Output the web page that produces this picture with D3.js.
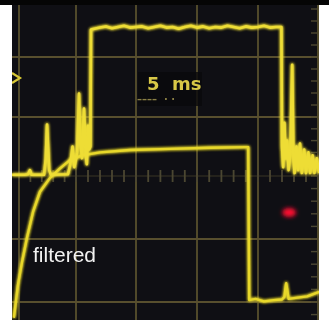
<!DOCTYPE html>
<html>
<head>
<meta charset="utf-8">
<script src="https://cdn.jsdelivr.net/npm/d3@7"></script>
<style>
  html, body { margin: 0; padding: 0; background: #fff; }
  svg { display: block; }
</style>
</head>
<body>
<div id="chart"></div>
<script>
// Time in ms (5 ms/div), values in divisions
const gridTimes = [0, 5, 10, 15, 20, 25];
const gridLevels = [-2, -1, 0, 1, 2];

// Raw (unfiltered) trace
const rawTime = [-0.6, 0.5, 0.8, 0.96, 1.1, 2.2, 2.35, 2.46, 2.55, 2.65, 2.8, 4.3, 4.5, 4.7, 4.85, 5.1, 5.25, 5.35, 5.5, 5.67, 5.8, 5.9, 6.0, 6.1, 6.2, 6.25,
  7, 7.5, 8, 8.5, 9, 9.5, 10, 10.5, 11, 11.5, 12, 12.5, 13, 13.5, 14, 14.5, 15, 15.5, 16, 16.5, 17, 17.5, 18, 18.5, 19, 19.5, 20, 20.5, 21, 21.5, 21.95,
  22.0, 22.1, 22.2, 22.3, 22.42, 22.55, 22.7, 22.85, 22.95, 23.05, 23.2, 23.35, 23.5, 23.65, 23.85, 24.0, 24.2, 24.35, 24.55, 24.7, 24.9, 25.1];
const rawValue = [0.02, 0.02, 0.03, 0.1, 0.02, 0.02, 0.3, 0.87, 0.5, 0.1, 0.02, 0.03, 0.2, 0.5, 0.15, 0.4, 1.39, 0.6, 0.3, 1.14, 0.4, 0.2, 0.85, 0.45, 0.5, 2.46,
  2.49, 2.51, 2.48, 2.5, 2.52, 2.49, 2.5, 2.51, 2.48, 2.5, 2.52, 2.49, 2.5, 2.47, 2.5, 2.52, 2.49, 2.51, 2.48, 2.5, 2.49, 2.52, 2.5, 2.48, 2.51, 2.49, 2.5, 2.52, 2.49, 2.5, 2.5,
  0.5, 0.15, 0.9, 0.3, 0.6, 0.1, 0.4, 1.87, 0.3, 0.05, 0.5, 0.1, 0.55, 0.05, 0.45, 0.05, 0.4, 0.05, 0.35, 0.05, 0.3, 0.05];

// Filtered trace
const filtTime = [-0.45, -0.09, 0.26, 0.7, 1.23, 1.84, 2.72, 3.6, 4.47, 5.5, 7.0, 9.5, 12.8, 16.1, 19.0, 19.2, 19.28, 19.8, 20.5, 21.3, 22.0, 22.2, 22.35, 22.55, 23.3, 24.1, 25.1];
const filtValue = [-2.25, -1.73, -1.37, -0.98, -0.57, -0.25, -0.03, 0.13, 0.27, 0.35, 0.40, 0.44, 0.46, 0.48, 0.49, 0.49, -1.97, -1.95, -1.99, -1.97, -1.96, -1.92, -1.70, -1.95, -1.93, -1.91, -1.84];

const W = 329, H = 320;
const plot = { left: 12, right: 319, top: 5, bottom: 320 };

const svg = d3.select('#chart').append('svg')
  .attr('width', W).attr('height', H);

const defs = svg.append('defs');
defs.append('clipPath').attr('id', 'clip')
  .append('rect')
  .attr('x', plot.left).attr('y', plot.top)
  .attr('width', plot.right - plot.left).attr('height', plot.bottom - plot.top);

// userSpaceOnUse so straight lines (zero-size bbox) still get filtered
function makeFilter(id, sd) {
  const f = defs.append('filter').attr('id', id)
    .attr('filterUnits', 'userSpaceOnUse')
    .attr('x', 0).attr('y', 0).attr('width', W).attr('height', H);
  f.append('feGaussianBlur').attr('stdDeviation', sd);
  return f;
}
makeFilter('soft', 0.5);
makeFilter('redBlur', 2);

const glow = defs.append('filter').attr('id', 'glow')
  .attr('filterUnits', 'userSpaceOnUse')
  .attr('x', 0).attr('y', 0).attr('width', W).attr('height', H);
glow.append('feGaussianBlur').attr('stdDeviation', 1.8).attr('result', 'b');
const merge = glow.append('feMerge');
merge.append('feMergeNode').attr('in', 'b');
merge.append('feMergeNode').attr('in', 'b');
merge.append('feMergeNode').attr('in', 'SourceGraphic');

// photo was a bit skewed, so grid spacing isn't perfectly even
const x = d3.scaleLinear().domain(gridTimes).range([19, 76, 136, 197, 258, 318]);
const y = d3.scaleLinear().domain(gridLevels).range([302, 239, 176, 117, 57]);

// top black strip
svg.append('rect').attr('x', 0).attr('y', 0).attr('width', W).attr('height', 5).attr('fill', '#050505');

const g = svg.append('g').attr('clip-path', 'url(#clip)');

// screen background
g.append('rect')
  .attr('x', plot.left).attr('y', plot.top)
  .attr('width', plot.right - plot.left).attr('height', plot.bottom - plot.top)
  .attr('fill', '#0f0f14');

// grid
g.selectAll('.vgrid').data(gridTimes).enter().append('line')
  .attr('x1', d => x(d)).attr('x2', d => x(d))
  .attr('y1', plot.top).attr('y2', plot.bottom)
  .attr('stroke', '#58502f').attr('stroke-width', 1.8).attr('filter', 'url(#soft)');

g.selectAll('.hgrid').data(gridLevels.filter(d => d !== 0)).enter().append('line')
  .attr('x1', plot.left).attr('x2', plot.right)
  .attr('y1', d => y(d)).attr('y2', d => y(d))
  .attr('stroke', '#58502f').attr('stroke-width', 1.8).attr('filter', 'url(#soft)');

// centre axis with minor ticks
g.append('line')
  .attr('x1', plot.left).attr('x2', plot.right)
  .attr('y1', y(0)).attr('y2', y(0))
  .attr('stroke', '#3a3624').attr('stroke-width', 1.2);
g.selectAll('.htick').data(d3.range(0, 25.01, 1)).enter().append('line')
  .attr('x1', d => x(d)).attr('x2', d => x(d))
  .attr('y1', y(0) - 6).attr('y2', y(0) + 6)
  .attr('stroke', '#4c4731').attr('stroke-width', 1.8).attr('filter', 'url(#soft)');

// vertical centre axis on right edge
g.selectAll('.vtick').data(d3.range(-2.4, 2.81, 0.2)).enter().append('line')
  .attr('x1', x(25) - 7).attr('x2', x(25))
  .attr('y1', d => y(d)).attr('y2', d => y(d))
  .attr('stroke', '#4c4731').attr('stroke-width', 1.4).attr('filter', 'url(#soft)');

// red marker
g.append('ellipse')
  .attr('cx', x(22.6)).attr('cy', y(-0.58))
  .attr('rx', 7).attr('ry', 4.5)
  .attr('fill', '#ff1030').attr('filter', 'url(#redBlur)');

const line = d3.line()
  .x(d => x(d[0]))
  .y(d => y(d[1]));

const rawData = rawTime.map((t, i) => [t, rawValue[i]]);
const filtData = filtTime.map((t, i) => [t, filtValue[i]]);

g.append('path')
  .datum(filtData)
  .attr('d', line)
  .attr('fill', 'none')
  .attr('stroke', '#e8d82c').attr('stroke-width', 2.4)
  .attr('stroke-linejoin', 'round')
  .attr('filter', 'url(#glow)');

g.append('path')
  .datum(rawData)
  .attr('d', line)
  .attr('fill', 'none')
  .attr('stroke', '#eedd36').attr('stroke-width', 2.6)
  .attr('stroke-linejoin', 'round')
  .attr('filter', 'url(#glow)');

// channel marker on left
g.append('path')
  .attr('d', `M${plot.left},${y(1.65) - 5} L${plot.left + 8},${y(1.65)} L${plot.left},${y(1.65) + 5}`)
  .attr('fill', 'none').attr('stroke', '#d8c836').attr('stroke-width', 2.2)
  .attr('filter', 'url(#soft)');

// timebase readout
g.append('rect')
  .attr('x', 138).attr('y', 72).attr('width', 64).attr('height', 34)
  .attr('fill', '#09090b').attr('opacity', 0.8);
g.append('text')
  .attr('x', 147).attr('y', 90)
  .attr('font-family', 'DejaVu Sans, sans-serif')
  .attr('font-size', 18).attr('font-weight', 'bold')
  .attr('fill', '#d8c846').attr('filter', 'url(#soft)')
  .attr('xml:space', 'preserve')
  .text('5  ms');
g.append('text')
  .attr('x', 137).attr('y', 103)
  .attr('font-family', 'DejaVu Sans, sans-serif')
  .attr('font-size', 10).attr('font-weight', 'bold')
  .attr('fill', '#8a7f44').attr('filter', 'url(#soft)')
  .attr('xml:space', 'preserve')
  .text('\u2013\u2013\u2013\u2013  \u00b7 \u00b7');

// label
g.append('text')
  .attr('x', 33).attr('y', 262)
  .attr('font-family', 'Liberation Sans, Arial, sans-serif')
  .attr('font-size', 21)
  .attr('fill', '#f2f2f2').attr('filter', 'url(#soft)')
  .text('filtered');
</script>
</body>
</html>
